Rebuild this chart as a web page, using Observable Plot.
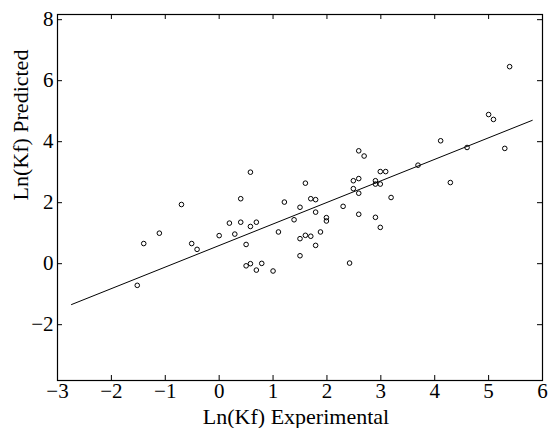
<!DOCTYPE html>
<html><head><meta charset="utf-8">
<script src="https://cdn.jsdelivr.net/npm/d3@7"></script>
<script src="https://cdn.jsdelivr.net/npm/@observablehq/plot@0.6"></script>
<style>body{margin:0;background:#fff}</style>
</head><body><div id="chart"></div>
<script>
const expX = [-1.52, -1.40, -1.11, -0.70, -0.51, -0.41,
  0.00, 0.19, 0.29, 0.40, 0.40, 0.50, 0.58, 0.58, 0.69, 0.50, 0.58, 0.69, 0.79, 1.00,
  1.10, 1.21, 1.39, 1.50, 1.50, 1.50, 1.60, 1.60, 1.70, 1.79, 1.79, 1.70, 1.79, 1.88,
  1.99, 1.99, 2.30, 2.42, 2.49, 2.49, 2.59, 2.59, 2.59, 2.69, 2.59, 2.90, 2.90, 2.99,
  2.99, 3.09, 2.90, 2.99, 3.19, 3.69, 4.11, 4.29, 4.60, 5.00, 5.09, 5.30, 5.39];
const predY = [-0.71, 0.66, 1.00, 1.94, 0.66, 0.47,
  0.92, 1.33, 0.97, 2.13, 1.36, 0.63, 3.00, 1.22, 1.36, -0.07, 0.00, -0.21, 0.01, -0.24,
  1.04, 2.02, 1.44, 1.85, 0.82, 0.26, 2.64, 0.93, 2.13, 2.10, 1.69, 0.90, 0.60, 1.04,
  1.51, 1.40, 1.88, 0.02, 2.72, 2.46, 2.79, 2.31, 3.70, 3.53, 1.62, 2.72, 2.61, 2.61,
  3.02, 3.02, 1.52, 1.19, 2.17, 3.23, 4.03, 2.66, 3.81, 4.89, 4.73, 3.78, 6.46];
const fitX = [-2.74, 5.81];
const fitY = [-1.34, 4.70];
const xTicks = [-3, -2, -1, 0, 1, 2, 3, 4, 5, 6];
const yTicks = [-2, 0, 2, 4, 6, 8];
const xTitle = "Ln(Kf) Experimental";
const yTitle = "Ln(Kf) Predicted";

const points = expX.map((x, i) => ({x, y: predY[i]}));
const fit = fitX.map((x, i) => ({x, y: fitY[i]}));

const W = 549, H = 428, mL = 57, mR = 7, mT = 14, mB = 48;
const fw = W - mL - mR, fh = H - mT - mB, tk = 5;

const chart = Plot.plot({
  width: W, height: H, marginLeft: mL, marginRight: mR, marginTop: mT, marginBottom: mB,
  style: {fontFamily: "'Liberation Serif', 'DejaVu Serif', serif", fontSize: "21px", background: "#fff", color: "#000"},
  x: {domain: [-3, 6]},
  y: {domain: [-3.83, 8.17]},
  marks: [
    Plot.axisX({ticks: xTicks, anchor: "bottom", tickSize: 0, tickPadding: 3, label: null}),
    Plot.axisY({ticks: yTicks, anchor: "left", tickSize: 0, tickPadding: 4, label: null}),
    Plot.ruleX(xTicks, {x: d => d, insetTop: fh - tk, stroke: "#000"}),
    Plot.ruleX(xTicks, {x: d => d, insetBottom: fh - tk, stroke: "#000"}),
    Plot.ruleY(yTicks, {y: d => d, insetRight: fw - tk, stroke: "#000"}),
    Plot.ruleY(yTicks, {y: d => d, insetLeft: fw - tk, stroke: "#000"}),
    Plot.frame({stroke: "#000", strokeWidth: 1.2}),
    Plot.line(fit, {x: "x", y: "y", stroke: "#000", strokeWidth: 1}),
    Plot.dot(points, {x: "x", y: "y", r: 2.3, stroke: "#000", strokeWidth: 1, fill: "none"}),
    Plot.text([xTitle], {frameAnchor: "bottom", lineAnchor: "bottom", dy: 43, dx: -4, fontSize: 22, fill: "#000"}),
    Plot.text([yTitle], {frameAnchor: "left", rotate: -90, lineAnchor: "middle", dx: -37, dy: 3, fontSize: 22, fill: "#000"})
  ]
});
document.getElementById("chart").appendChild(chart);
</script>
</body></html>
